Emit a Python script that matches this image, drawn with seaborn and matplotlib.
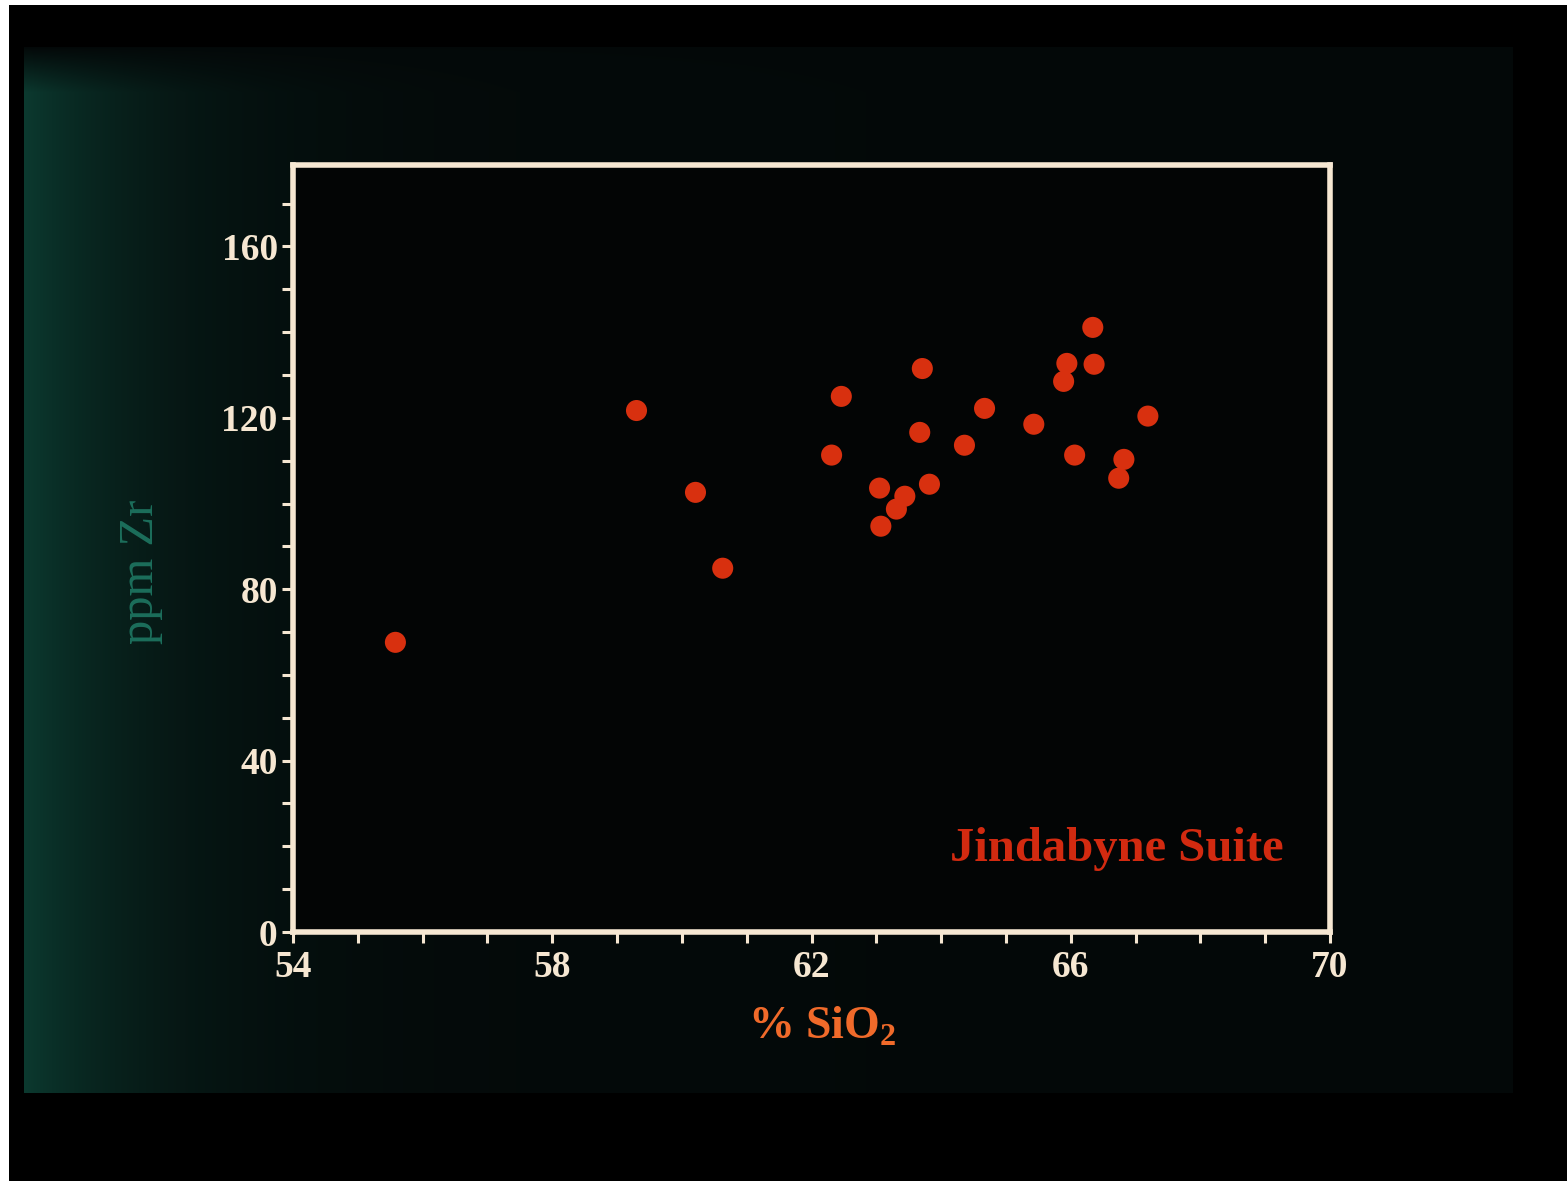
import numpy as np
import pandas as pd
import matplotlib
matplotlib.use("Agg")
import matplotlib.pyplot as plt
import seaborn as sns
from matplotlib.ticker import MultipleLocator

# ---- data ----
sio2 = [55.58, 59.30, 60.21, 60.63, 62.31, 62.46, 63.05, 63.07, 63.31, 63.44,
        63.67, 63.71, 63.82, 64.36, 64.67, 65.43, 65.89, 65.94, 66.06, 66.34,
        66.36, 66.74, 66.82, 67.19]
zr = [67.6, 121.7, 102.6, 84.9, 111.3, 125.0, 103.6, 94.7, 98.7, 101.7,
      116.6, 131.5, 104.5, 113.6, 122.2, 118.5, 128.5, 132.7, 111.3, 141.1,
      132.5, 105.9, 110.3, 120.4]
x_ticks = [54, 58, 62, 66, 70]
y_ticks = [0, 40, 80, 120, 160]
suite_label = "Jindabyne Suite"
x_label = "% SiO$_\\mathbf{2}$"
y_label = "ppm Zr"

df = pd.DataFrame({"SiO2": sio2, "Zr": zr})

sns.set_theme(style="white")
plt.rcParams["font.family"] = ["Liberation Serif", "DejaVu Serif"]
plt.rcParams["mathtext.fontset"] = "custom"
plt.rcParams["mathtext.rm"] = "Liberation Serif"
plt.rcParams["mathtext.bf"] = "Liberation Serif:bold"

W, H = 1567, 1181
fig = plt.figure(figsize=(W / 100, H / 100), dpi=100)
fig.patch.set_facecolor("white")

# ---- photographic slide background ----
bg = np.ones((H, W, 3))
bg[5:, 9:, :] = 0.0
yy, xx = np.mgrid[0:H, 0:W]
slide = (xx >= 24) & (xx <= 1512) & (yy >= 47) & (yy <= 1092)
base = np.array([0.015, 0.035, 0.035])
teal = np.array([0.03, 0.19, 0.15])
grad = np.exp(-np.clip(xx - 24, 0, None) / 130.0)[..., None]
topdark = np.clip((yy - 47) / 45.0, 0, 1)[..., None]
col = base + teal * grad * topdark
bg[slide] = col[slide]
bg_ax = fig.add_axes([0, 0, 1, 1], zorder=-10)
bg_ax.imshow(bg, aspect="auto", interpolation="bilinear")
bg_ax.axis("off")

# ---- main axes ----
left, right, top, bottom = 293, 1330, 165, 932
ax = fig.add_axes([left / W, (H - bottom) / H, (right - left) / W, (bottom - top) / H])
ax.set_facecolor("#030505")

sns.scatterplot(data=df, x="SiO2", y="Zr", ax=ax, s=230, color="#d8300f",
                edgecolor="none", linewidth=0, legend=False, zorder=3)

ax.set_xlim(54, 70)
ax.set_ylim(0, 179)
cream = "#f6e7d2"
for sp in ax.spines.values():
    sp.set_visible(True)
    sp.set_color(cream)
    sp.set_linewidth(4.0)

ax.set_xticks(x_ticks)
ax.set_yticks(y_ticks)
ax.xaxis.set_minor_locator(MultipleLocator(1))
ax.yaxis.set_minor_locator(MultipleLocator(10))
ax.tick_params(axis="both", which="both", direction="out", color=cream,
               width=2.2, length=8, labelcolor=cream, labelsize=27)
ax.tick_params(axis="x", which="major", pad=5)
ax.tick_params(axis="y", which="major", pad=3)
ax.tick_params(bottom=True, left=True, top=False, right=False, which="both")
for lab in ax.get_xticklabels() + ax.get_yticklabels():
    lab.set_fontweight("bold")

ax.set_xlabel(x_label, color="#f06a2a", fontsize=33, fontweight="bold")
ax.xaxis.set_label_coords(0.51, -0.095)
ax.set_ylabel(y_label, color="#1c6e5b", fontsize=35)
ax.yaxis.set_label_coords(-0.125, 0.47)

ax.text(0.955, 0.108, suite_label, transform=ax.transAxes, ha="right",
        va="center", color="#d22a10", fontsize=35, fontweight="bold")

fig.savefig("out.png", dpi=100, facecolor=fig.get_facecolor())
